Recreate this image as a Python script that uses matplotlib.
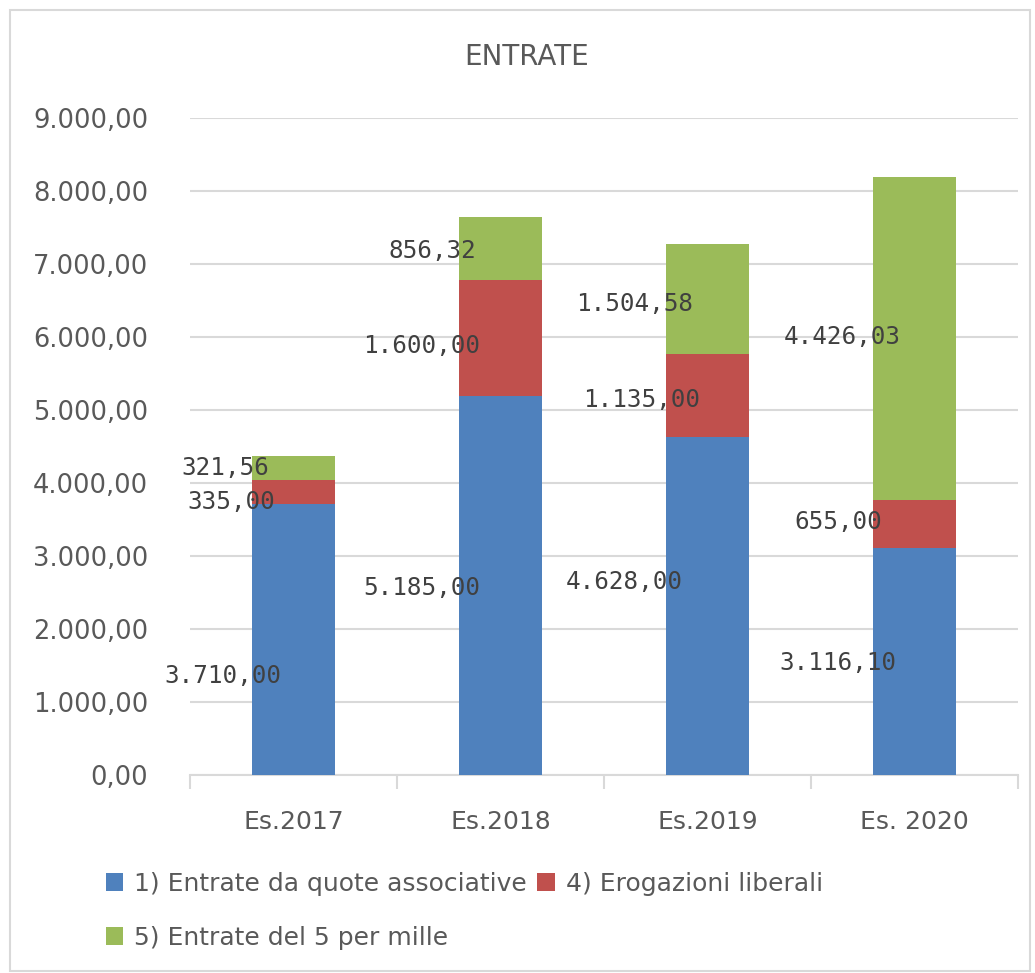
import matplotlib.pyplot as plt
from matplotlib.patches import Rectangle
from matplotlib.ticker import FuncFormatter
import numpy as np

anni = ["Es.2017", "Es.2018", "Es.2019", "Es. 2020"]
quote = [3710.00, 5185.00, 4628.00, 3116.10]
erogazioni = [335.00, 1600.00, 1135.00, 655.00]
cinque_mille = [321.56, 856.32, 1504.58, 4426.03]
serie_nomi = ["1) Entrate da quote associative", "4) Erogazioni liberali",
              "5) Entrate del 5 per mille"]
colori = ["#4F81BD", "#C0504D", "#9BBB59"]

# label positions (data coords) as placed in the original chart
pos_etichette = [
    [(-0.34, 1360), (0.62, 2560), (1.60, 2640), (2.63, 1530)],
    [(-0.30, 3740), (0.62, 5880), (1.68, 5140), (2.63, 3470)],
    [(-0.33, 4200), (0.67, 7180), (1.65, 6450), (2.65, 6000)],
]


def it_fmt(v, pos=None):
    s = f"{v:,.2f}"
    return s.replace(",", "X").replace(".", ",").replace("X", ".")


grigio = "#595959"
plt.rcParams['font.family'] = ['DejaVu Sans']

fig = plt.figure(figsize=(10.35, 9.73), dpi=100)
fig.patches.append(Rectangle((10 / 1035, 0.002), 1020 / 1035, 1 - 12 / 973,
                             transform=fig.transFigure, fill=False,
                             edgecolor="#d9d9d9", linewidth=1.5))
ax = fig.add_axes([190 / 1035, 1 - 775 / 973, 828 / 1035, 657 / 973])

x = np.arange(len(anni))
serie = [quote, erogazioni, cinque_mille]
base = np.zeros(len(anni))
bars = []
for vals, col, nome in zip(serie, colori, serie_nomi):
    b = ax.bar(x, vals, 0.4, bottom=base, color=col, label=nome, zorder=3)
    bars.append(b)
    base = base + np.array(vals)

for vals, posiz in zip(serie, pos_etichette):
    for v, (px, py) in zip(vals, posiz):
        ax.text(px, py, it_fmt(v), ha="center", va="center",
                family="DejaVu Sans Mono", fontsize=17.5, color="#404040",
                zorder=5)

ax.set_xlim(-0.5, 3.5)
ax.set_ylim(0, 9000)
ax.set_yticks(np.arange(0, 9001, 1000))
ax.yaxis.set_major_formatter(FuncFormatter(it_fmt))
ax.grid(axis="y", color="#d9d9d9", linewidth=1.5, zorder=0)
ax.set_xticks(x)
ax.set_xticklabels(anni)
ax.set_xticks(np.arange(-0.5, 3.6, 1), minor=True)
ax.tick_params(axis="x", which="major", length=0, pad=25, labelsize=18,
               labelcolor=grigio)
ax.tick_params(axis="x", which="minor", length=10, width=1.5,
               color="#d9d9d9")
ax.tick_params(axis="y", length=0, pad=30, labelsize=18.5, labelcolor=grigio)
for s in ["top", "right", "left"]:
    ax.spines[s].set_visible(False)
ax.spines["bottom"].set_color("#d9d9d9")
ax.spines["bottom"].set_linewidth(1.5)

fig.text(527 / 1035, 1 - 57 / 973, "ENTRATE", ha="center", va="center",
         fontsize=20, color=grigio)

h = [bars[0], bars[2], bars[1]]
lab = [serie_nomi[0], serie_nomi[2], serie_nomi[1]]
fig.legend(h, lab, ncol=2, loc="upper left",
           bbox_to_anchor=(93 / 1035, 1 - 859 / 973), frameon=False,
           fontsize=18, labelcolor=grigio, handlelength=0.7,
           handleheight=0.7, handletextpad=0.45, columnspacing=0.4,
           labelspacing=1.2, borderpad=0)

fig.savefig("out.png", dpi=100)
